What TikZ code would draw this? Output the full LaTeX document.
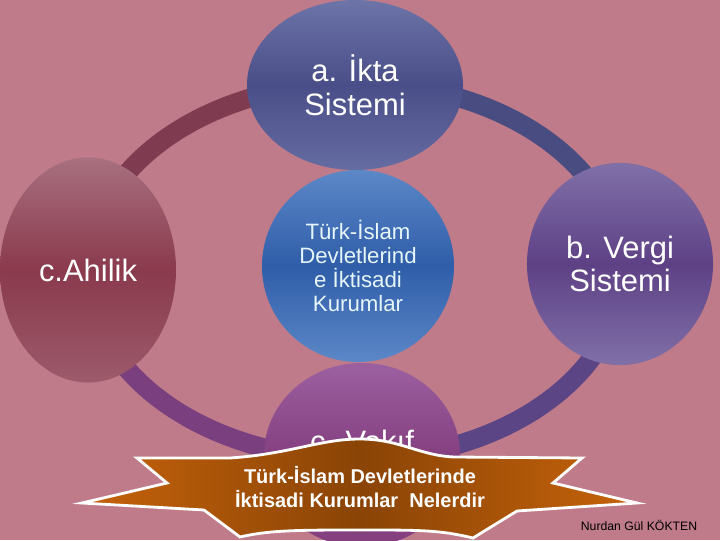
\documentclass[tikz,border=0pt]{standalone}
\usepackage{fontspec}
\setmainfont{Liberation Sans}
\usetikzlibrary{shapes.geometric}
\definecolor{zemin}{RGB}{191,123,137}
\definecolor{vongTL}{RGB}{127,59,80}
\definecolor{vongTR}{RGB}{73,76,128}
\definecolor{vongBR}{RGB}{92,69,132}
\definecolor{vongBL}{RGB}{122,63,126}
\definecolor{iktaA}{RGB}{108,116,168}
\definecolor{iktaB}{RGB}{74,78,136}
\definecolor{merkezA}{RGB}{92,136,200}
\definecolor{merkezB}{RGB}{47,93,168}
\definecolor{ahiA}{RGB}{168,112,128}
\definecolor{ahiB}{RGB}{138,58,76}
\definecolor{vergiA}{RGB}{128,112,168}
\definecolor{vergiB}{RGB}{94,65,133}
\definecolor{vakifA}{RGB}{156,96,160}
\definecolor{vakifB}{RGB}{133,64,128}
\definecolor{seritA}{RGB}{198,99,10}
\definecolor{seritB}{RGB}{138,68,6}
\definecolor{acik}{RGB}{230,245,248}
\begin{document}
\begin{tikzpicture}[x=0.025cm, y=0.025cm, line join=round, line cap=round,
	oval/.style={ellipse, inner sep=0pt, text=white, align=center, font=\fontsize{22}{24}\selectfont},
	vong/.style={line width=13.5pt, line cap=butt}]
	\fill[zemin] (0,0) rectangle (720,540);
	\useasboundingbox (0,0) rectangle (720,540);
	\coordinate (tam) at (355,269);
	\foreach \a/\renk in {0/vongTR, 90/vongTL, 180/vongBL, 270/vongBR}
		\draw[vong, \renk] (tam) ++(\a:267 and 188) arc[start angle=\a, delta angle=90, x radius=267, y radius=188];
	\node[oval, minimum width=5.4cm, minimum height=4.25cm, top color=iktaA, bottom color=iktaA!80!iktaB, middle color=iktaB] (ikta) at (355,455) {a. İkta\\Sistemi};
	\node[oval, minimum width=4.4cm, minimum height=5.625cm, top color=ahiA, bottom color=ahiA!60!ahiB, middle color=ahiB] (ahilik) at (88,270) {c.Ahilik};
	\node[oval, minimum width=4.65cm, minimum height=5.05cm, top color=vergiA, bottom color=vergiA, middle color=vergiB] (vergi) at (620,276) {b. Vergi\\Sistemi};
	\node[oval, minimum width=4.8cm, minimum height=4.8cm, top color=merkezA, bottom color=merkezA, middle color=merkezB, text=acik, font=\fontsize{15.8}{16.9}\selectfont] (merkez) at (358,274) {Türk-İslam\\Devletlerind\\e İktisadi\\Kurumlar};
	\node[oval, minimum width=4.9cm, minimum height=4.6cm, top color=vakifA, bottom color=vakifB, middle color=vakifB] (vakif) at (362,85) {};
	\node[text=white, font=\fontsize{22}{24}\selectfont] (vakifyazi) at (362,99) {c. Vakıf};
	\draw[white, line width=2pt, line join=miter, left color=seritA, right color=seritA, middle color=seritB]
		(137,82) -- (230,82) .. controls (290,86) and (320,101) .. (360,101)
		.. controls (400,101) and (420,84) .. (455,83) -- (582,82) -- (553,57) -- (637,37)
		-- (517,29) -- (473,2) .. controls (440,10) and (420,10) .. (362,10)
		.. controls (300,10) and (270,10) .. (240,3) -- (204,30) -- (82,37) -- (167,57) -- cycle;
	\node[text=white, align=center, font=\bfseries\fontsize{14.2}{17}\selectfont] (soru) at (360,53) {Türk-İslam Devletlerinde\\İktisadi Kurumlar\ \ Nelerdir};
	\node[font=\fontsize{8.7}{10}\selectfont] (yazar) at (639,15) {Nurdan Gül KÖKTEN};
\end{tikzpicture}
\end{document}
